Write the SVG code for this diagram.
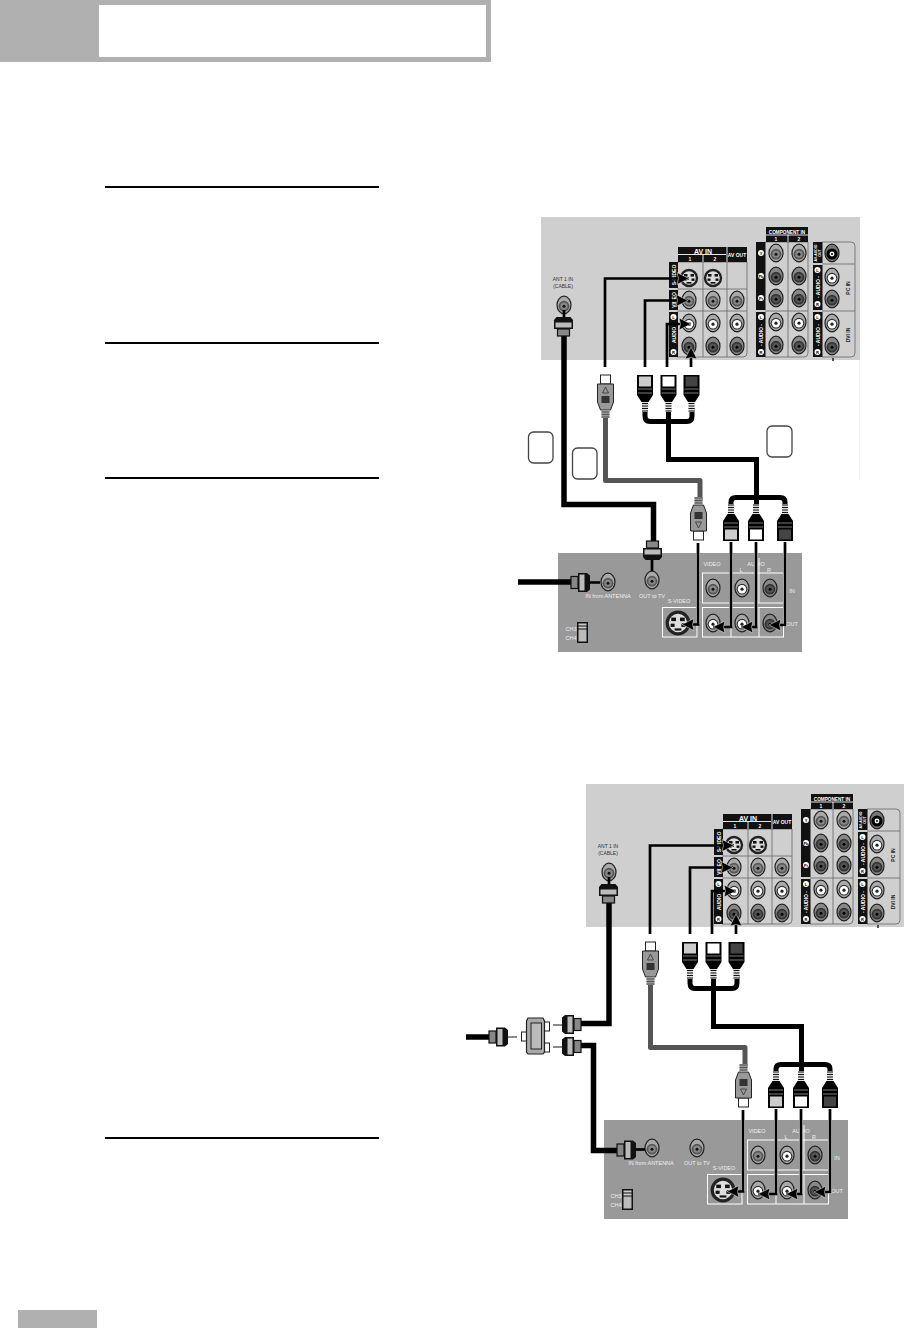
<svg xmlns="http://www.w3.org/2000/svg" width="908" height="1328" viewBox="0 0 908 1328">
<style>
text{font-family:"Liberation Sans",Arial,sans-serif}
.w{fill:#fff;font-weight:700;text-anchor:middle}
.c{fill:#000;font-weight:700;text-anchor:middle;font-size:4px}
.k{fill:#222;text-anchor:middle;font-weight:700}
.kn{fill:#333;text-anchor:middle;font-size:5px}
.lw{fill:#eee;text-anchor:middle;font-size:5.5px}
.wire{fill:none;stroke:#000;stroke-width:2.7}
.halo{fill:none;stroke:#fff;stroke-width:4;opacity:.75}
.ant{fill:none;stroke:#000;stroke-width:5.500;stroke-linejoin:miter}
.sv{fill:none;stroke:#555;stroke-width:5;stroke-linejoin:round}
.av{fill:none;stroke:#000;stroke-width:5}
.thin{fill:none;stroke:#666;stroke-width:1.5}
.sep{fill:none;stroke:#666;stroke-width:.8}
.box{fill:none;stroke:#fff;stroke-width:1}
.tag{fill:#fff;stroke:#444;stroke-width:1.3}
.rule{fill:none;stroke:#000;stroke-width:2}
.strip{fill:#111}
</style>
<defs>
<marker id="tip" markerUnits="userSpaceOnUse" markerWidth="15" markerHeight="13" refX="12" refY="6.5" orient="auto">
<path d="M0,.5 L12,6.500 L0,12.500 L1.500,6.500Z" fill="#000" stroke="#fff" stroke-width=".5"/>
</marker>
<g id="j-g"><ellipse rx="7" ry="8.8" fill="#aaa" stroke="#222" stroke-width="1.2"/><circle cy="1.2" r="5.4" fill="#555"/><circle cy="1.2" r="3.6" fill="#888"/><circle cy="1.2" r="1.5" fill="#111"/></g>
<g id="j-w"><ellipse rx="7" ry="8.8" fill="#aaa" stroke="#222" stroke-width="1.2"/><circle cy="1.2" r="5.4" fill="#333"/><circle cy="1.2" r="4.2" fill="#fff"/><circle cy="1.2" r="1.6" fill="#222"/></g>
<g id="j-d"><ellipse rx="7" ry="8.8" fill="#888" stroke="#222" stroke-width="1.2"/><circle cy="1.2" r="5.4" fill="#333"/><circle cy="1.2" r="3.6" fill="#555"/><circle cy="1.2" r="1.5" fill="#000"/></g>
<g id="j-b"><ellipse rx="7" ry="8.8" fill="#777" stroke="#222" stroke-width="1.2"/><circle cy="1" r="5.6" fill="#000"/><circle cy="1" r="2.4" fill="#fff"/><circle cy="1" r="1" fill="#000"/></g>
<g id="j-s"><circle r="8" fill="#ddd" stroke="#222" stroke-width="2.4"/><rect x="-5" y="-4" width="3.5" height="2.6" fill="#111"/><rect x="1.5" y="-4" width="3.5" height="2.6" fill="#111"/><rect x="-5.5" y=".5" width="3" height="2.4" fill="#111"/><rect x="2.5" y=".5" width="3" height="2.4" fill="#111"/><rect x="-2.5" y="4" width="5" height="1.6" fill="#111"/></g>
<g id="plug"><path d="M-8,0H8V20L3.5,27H-3.5L-8,20Z" fill="#000"/><rect x="-6" y="1.500" width="12" height="10" fill="currentColor"/><path d="M-7,14H7M-7,18H7" stroke="#999" stroke-width=".8"/><rect x="-3" y="27" width="6" height="10" fill="#ddd"/><path d="M-3,28.500H3M-3,31H3M-3,33.500H3M-3,36H3" stroke="#111" stroke-width="1"/></g>
<g id="splug"><rect x="-5" y="0" width="10" height="9" fill="#fff" stroke="#222" stroke-width="1"/><path d="M-8,9H8V27L5,35H-5L-8,27Z" fill="#999" stroke="#222" stroke-width="1"/><path d="M0,12L3,18H-3Z" fill="none" stroke="#333" stroke-width=".8"/><rect x="-4" y="21" width="8" height="7" fill="#333"/><rect x="-4" y="35" width="8" height="8" fill="#999"/><path d="M-4,37H4M-4,39.500H4M-4,42H4" stroke="#444" stroke-width=".8"/></g>
<g id="fcon"><path d="M-7,0H7L9.500,3V12H-9.500V3Z" fill="#111"/><rect x="-8" y="5.500" width="16" height="5" fill="#bbb"/><rect x="-6" y="12" width="12" height="7" fill="#888" stroke="#111" stroke-width="1.2"/></g>
<g id="tv-top">
<path class="sep" d="M677,262H747V353Q747,357 743,357H677M677,289H747M677,311H747M703,262V357M727,262V357"/>
<path class="sep" d="M765,242H808V353Q808,357 804,357H765M788,242V357M765,311H808"/>
<path class="sep" d="M822,242H851Q855,242 855,246V353Q855,357 851,357H822M822,264H855M822,311H855"/>
<path fill="#111" d="M678,247H747V262H678Z"/><path d="M678,254.500H726M703,254.500V262M727,247V262" stroke="#fff" stroke-width=".9" fill="none"/>
<path fill="#111" d="M766,227H808V242H766Z"/><path d="M766,235H808M788,235V242" stroke="#fff" stroke-width=".9" fill="none"/>
<rect class="strip" x="669" y="262" width="9" height="26"/><rect class="strip" x="669" y="290" width="9" height="20"/><rect class="strip" x="669" y="312" width="9" height="45"/>
<rect class="strip" x="756" y="242" width="9.500" height="68"/><rect class="strip" x="756" y="312" width="9.500" height="45"/>
<rect class="strip" x="813" y="242" width="9.500" height="21"/><rect class="strip" x="813" y="265" width="9.500" height="45"/><rect class="strip" x="813" y="312" width="9.500" height="45"/>
<g fill="#fff"><circle cx="673.500" cy="317" r="3"/><circle cx="673.500" cy="352" r="3"/><circle cx="761" cy="253" r="3"/><circle cx="761" cy="276" r="3"/><circle cx="761" cy="298" r="3"/><circle cx="761" cy="317" r="3"/><circle cx="761" cy="352" r="3"/><circle cx="817.500" cy="270" r="3"/><circle cx="817.500" cy="304" r="3"/><circle cx="817.500" cy="317" r="3"/><circle cx="817.500" cy="352" r="3"/></g>
<use href="#j-s" x="689" y="278"/><use href="#j-s" x="713" y="278"/>
<use href="#j-g" x="689" y="300"/><use href="#j-g" x="713" y="300"/><use href="#j-g" x="737" y="300"/>
<use href="#j-w" x="689" y="323"/><use href="#j-w" x="713" y="323"/><use href="#j-w" x="737" y="323"/>
<use href="#j-d" x="689" y="346"/><use href="#j-d" x="713" y="346"/><use href="#j-d" x="737" y="346"/>
<use href="#j-g" x="776" y="253"/><use href="#j-g" x="799" y="253"/><use href="#j-d" x="776" y="276"/><use href="#j-d" x="799" y="276"/><use href="#j-d" x="776" y="298"/><use href="#j-d" x="799" y="298"/>
<use href="#j-w" x="776" y="322"/><use href="#j-w" x="799" y="322"/><use href="#j-d" x="776" y="345"/><use href="#j-d" x="799" y="345"/>
<use href="#j-b" x="832" y="253"/><use href="#j-w" x="832" y="277"/><use href="#j-d" x="832" y="299"/><use href="#j-w" x="832" y="323"/><use href="#j-d" x="832" y="346"/>
<path d="M833,358V361" stroke="#222" stroke-width="1.5"/>
</g>
<g id="vcr">
<rect x="702.500" y="573" width="81" height="30" class="box"/><path class="box" d="M731,558V603M759,558V603M731,607V637M759,607V637"/>
<rect x="702.500" y="607.500" width="81" height="29.500" class="box"/><rect x="662.500" y="607.500" width="34.500" height="29.500" class="box"/>
<use href="#j-g" x="713" y="588"/><use href="#j-w" x="742" y="588"/><use href="#j-d" x="770" y="588"/>
<use href="#j-w" x="713" y="623"/><use href="#j-w" x="742" y="623"/><use href="#j-d" x="770" y="623"/>
<use href="#j-s" transform="translate(678,623) scale(1.35)"/>
<rect x="577" y="622" width="11" height="21" fill="#111"/><rect x="578.500" y="623.500" width="8" height="2" fill="#ccc"/><rect x="578.500" y="626.500" width="8" height="2" fill="#ccc"/><rect x="578.500" y="629.500" width="8" height="12" fill="#bbb"/>
</g>
</defs>

<g id="page-header"><rect x="0" y="0" width="491" height="62" fill="#b0b0b0"/><rect x="99" y="5" width="387" height="52" fill="#fff"/></g>
<rect id="page-footer" x="18" y="1310" width="79" height="18" fill="#b0b0b0"/>
<g id="rules"><path class="rule" d="M105,187H379M105,343H379M105,478H379M105,1138H379"/></g>

<!-- Upper diagram -->
<g id="tv-1">
<rect x="541" y="217" width="319" height="143" fill="#cfcfcf"/>
<use href="#tv-top"/>
<g id="tv-1-labels">
<text class="w" x="703" y="253.500" font-size="7">AV IN</text><text class="w" x="690" y="261" font-size="5">1</text><text class="w" x="715" y="261" font-size="5">2</text><text class="w" x="737" y="257" font-size="5">AV OUT</text>
<text class="w" x="787" y="233.500" font-size="4.700">COMPONENT IN</text><text class="w" x="776" y="241" font-size="5">1</text><text class="w" x="799" y="241" font-size="5">2</text>
<text class="w" font-size="5" transform="translate(675.500,275) rotate(-90)">S-VIDEO</text><text class="w" font-size="5" transform="translate(675.500,300) rotate(-90)">VIDEO</text><text class="w" font-size="5" transform="translate(675.500,335) rotate(-90)">AUDIO</text>
<text class="w" font-size="5" transform="translate(763,335) rotate(-90)">- AUDIO -</text><text class="w" font-size="5" transform="translate(819.500,287) rotate(-90)">- AUDIO -</text><text class="w" font-size="5" transform="translate(819.500,335) rotate(-90)">- AUDIO -</text>
<text class="w" font-size="3.500" transform="translate(817,253) rotate(-90)">AV-AUDIO</text><text class="w" font-size="3.500" transform="translate(821,253) rotate(-90)">OUT</text>
<text class="k" font-size="5" transform="translate(850,288) rotate(-90)">PC IN</text><text class="k" font-size="5" transform="translate(850,335) rotate(-90)">DVI IN</text>
<text class="kn" x="563" y="281">ANT 1 IN</text><text class="kn" x="563" y="288">(CABLE)</text>
<text class="c" x="673.500" y="318.500">L</text><text class="c" x="673.500" y="353.500">R</text><text class="c" x="761" y="254.500">Y</text><text class="c" x="761" y="277.500">Pb</text><text class="c" x="761" y="299.500">Pr</text><text class="c" x="761" y="318.500">L</text><text class="c" x="761" y="353.500">R</text><text class="c" x="817.500" y="271.500">L</text><text class="c" x="817.500" y="305.500">R</text><text class="c" x="817.500" y="318.500">L</text><text class="c" x="817.500" y="353.500">R</text>
</g>
<use href="#j-g" x="564" y="305"/>
<path class="wire" d="M564,310V318" stroke-width="2"/>
</g>
<path id="edge-1" d="M859.500,360V480" stroke="#eee" stroke-width="1"/>

<g id="vcr-1">
<rect x="558" y="553" width="244" height="99" fill="#999"/>
<use href="#vcr"/>
<use href="#j-g" x="608" y="582"/><use href="#j-g" x="652" y="580"/>
<g id="vcr-1-labels">
<text class="lw" x="712" y="566">VIDEO</text><text class="lw" x="756" y="566">AUDIO</text><text class="lw" x="741" y="572">L</text><text class="lw" x="769" y="572">R</text><text class="lw" x="792" y="593">IN</text><text class="lw" x="792" y="626">OUT</text><text class="lw" x="679" y="603">S-VIDEO</text>
<text class="lw" x="608" y="598" font-size="5">IN from ANTENNA</text><text class="lw" x="652" y="598" font-size="5">OUT to TV</text><text class="lw" x="571" y="631">CH3</text><text class="lw" x="571" y="640">CH4</text>
</g>
</g>

<g id="connectors-1">
<path class="ant" d="M564,330V504.500H653.500V545"/>
<path class="ant" d="M518,582H575"/>
<path class="wire" stroke-width="1.500" d="M590,582.500H600M652,560V571"/>
<path class="wire" d="M605,367V278.500H689" marker-end="url(#tip)"/>
<path class="wire" d="M645,367V300.500H688" marker-end="url(#tip)"/>
<path class="wire" d="M667,367V324H691" marker-end="url(#tip)"/>
<path class="wire" d="M691,367V347" marker-end="url(#tip)"/>
<path class="sv" d="M605.500,415V480.500H700V500"/>
<path class="av" d="M645,408V416Q645,421.500 650,421.500H687Q692,421.500 692,416V408"/>
<path class="av" d="M668.500,410V459.500H756.500V505"/>
<path class="av" d="M731,510V502Q731,497.500 736,497.500H780Q785,497.500 785,502V510"/>
<path class="halo" d="M698,553V624M731,553V626.500M756,553V626.500M785,553V626.500"/>
<path class="wire" d="M698,543V624.500H682" marker-end="url(#tip)"/>
<path class="wire" d="M731,542V627H713" marker-end="url(#tip)"/>
<path class="wire" d="M756,542V627H741" marker-end="url(#tip)"/>
<path class="wire" d="M785,542V625H769" marker-end="url(#tip)"/>
</g>

<g id="ant-con-1-a"><use href="#fcon" transform="translate(563.500,317)"/></g>
<g id="ant-con-1-b"><use href="#fcon" transform="translate(652.500,560) rotate(180)"/></g>
<g id="ant-con-1-c"><use href="#fcon" transform="translate(590,582.500) rotate(90)"/></g>
<g id="plugs-1-top" >
<use href="#splug" transform="translate(605.500,375)"/>
<use href="#plug" transform="translate(645,375)" color="#ccc"/><use href="#plug" transform="translate(668.500,375)" color="#fff"/><use href="#plug" transform="translate(691.500,375)" color="#444"/>
</g>
<g id="plugs-1-bottom">
<use href="#splug" transform="translate(698.500,540) scale(1,-1)"/>
<use href="#plug" transform="translate(731,541) scale(1,-1)" color="#ccc"/><use href="#plug" transform="translate(756,541) scale(1,-1)" color="#fff"/><use href="#plug" transform="translate(785,541) scale(1,-1)" color="#444"/>
</g>
<g id="tags-1"><rect class="tag" x="528.500" y="432" width="24.500" height="31" rx="5"/><rect class="tag" x="572.500" y="448" width="24.500" height="31" rx="5"/><rect class="tag" x="767" y="426" width="25" height="31" rx="5"/></g>

<!-- Lower diagram -->
<g id="tv-2" transform="translate(45,567)">
<rect x="541" y="217" width="318" height="143" fill="#cfcfcf"/>
<use href="#tv-top"/>
<g id="tv-2-labels">
<text class="w" x="703" y="253.500" font-size="7">AV IN</text><text class="w" x="690" y="261" font-size="5">1</text><text class="w" x="715" y="261" font-size="5">2</text><text class="w" x="737" y="257" font-size="5">AV OUT</text>
<text class="w" x="787" y="233.500" font-size="4.700">COMPONENT IN</text><text class="w" x="776" y="241" font-size="5">1</text><text class="w" x="799" y="241" font-size="5">2</text>
<text class="w" font-size="5" transform="translate(675.500,275) rotate(-90)">S-VIDEO</text><text class="w" font-size="5" transform="translate(675.500,300) rotate(-90)">VIDEO</text><text class="w" font-size="5" transform="translate(675.500,335) rotate(-90)">AUDIO</text>
<text class="w" font-size="5" transform="translate(763,335) rotate(-90)">- AUDIO -</text><text class="w" font-size="5" transform="translate(819.500,287) rotate(-90)">- AUDIO -</text><text class="w" font-size="5" transform="translate(819.500,335) rotate(-90)">- AUDIO -</text>
<text class="w" font-size="3.500" transform="translate(817,253) rotate(-90)">AV-AUDIO</text><text class="w" font-size="3.500" transform="translate(821,253) rotate(-90)">OUT</text>
<text class="k" font-size="5" transform="translate(850,288) rotate(-90)">PC IN</text><text class="k" font-size="5" transform="translate(850,335) rotate(-90)">DVI IN</text>
<text class="kn" x="563" y="281">ANT 1 IN</text><text class="kn" x="563" y="288">(CABLE)</text>
<text class="c" x="673.500" y="318.500">L</text><text class="c" x="673.500" y="353.500">R</text><text class="c" x="761" y="254.500">Y</text><text class="c" x="761" y="277.500">Pb</text><text class="c" x="761" y="299.500">Pr</text><text class="c" x="761" y="318.500">L</text><text class="c" x="761" y="353.500">R</text><text class="c" x="817.500" y="271.500">L</text><text class="c" x="817.500" y="305.500">R</text><text class="c" x="817.500" y="318.500">L</text><text class="c" x="817.500" y="353.500">R</text>
</g>
<use href="#j-g" x="564" y="305"/>
<path class="wire" d="M564,310V318" stroke-width="2"/>
</g>

<g id="vcr-2" transform="translate(45,567)">
<rect x="559" y="553" width="244" height="99" fill="#999"/>
<use href="#vcr"/>
<use href="#j-g" x="607" y="581"/><use href="#j-g" x="652" y="581"/>
<g id="vcr-2-labels">
<text class="lw" x="712" y="566">VIDEO</text><text class="lw" x="756" y="566">AUDIO</text><text class="lw" x="741" y="572">L</text><text class="lw" x="769" y="572">R</text><text class="lw" x="792" y="593">IN</text><text class="lw" x="792" y="626">OUT</text><text class="lw" x="679" y="603">S-VIDEO</text>
<text class="lw" x="606" y="598" font-size="5">IN from ANTENNA</text><text class="lw" x="652" y="598" font-size="5">OUT to TV</text><text class="lw" x="571" y="631">CH3</text><text class="lw" x="571" y="640">CH4</text>
</g>
</g>

<g id="connectors-2">
<path class="ant" d="M609,897V1023.500H578"/>
<path class="ant" d="M578,1045.500H593.500V1150.500H620"/>
<path class="ant" d="M466,1037H492"/>
<path class="thin" d="M508,1037H517M553,1025H562M553,1047H562"/>
<path class="wire" stroke-width="1.500" d="M636,1149.500H645"/>
<g transform="translate(45,567)">
<path class="wire" d="M605,367V278.500H689" marker-end="url(#tip)"/>
<path class="wire" d="M645,367V300.500H688" marker-end="url(#tip)"/>
<path class="wire" d="M667,367V324H691" marker-end="url(#tip)"/>
<path class="wire" d="M691,367V347" marker-end="url(#tip)"/>
<path class="sv" d="M605.500,415V480.500H700V500"/>
<path class="av" d="M645,408V416Q645,421.500 650,421.500H687Q692,421.500 692,416V408"/>
<path class="av" d="M668.500,410V459.500H756.500V505"/>
<path class="av" d="M731,510V502Q731,497.500 736,497.500H780Q785,497.500 785,502V510"/>
<path class="halo" d="M698,553V624M731,553V626.500M756,553V626.500M785,553V626.500"/>
<path class="wire" d="M698,543V624.500H682" marker-end="url(#tip)"/>
<path class="wire" d="M731,542V627H713" marker-end="url(#tip)"/>
<path class="wire" d="M756,542V627H741" marker-end="url(#tip)"/>
<path class="wire" d="M785,542V625H769" marker-end="url(#tip)"/>
</g>
</g>

<g id="ant-con-2-a"><use href="#fcon" transform="translate(608.500,884)"/></g>
<g id="ant-con-2-b"><use href="#fcon" transform="translate(636,1150) rotate(90)"/></g>
<g id="ant-con-2-c"><use href="#fcon" transform="translate(508,1037) rotate(90)"/></g>
<g id="ant-con-2-d"><use href="#fcon" transform="translate(562,1024.500) rotate(-90)"/></g>
<g id="ant-con-2-e"><use href="#fcon" transform="translate(562,1046.500) rotate(-90)"/></g>
<g id="splitter">
<rect x="544" y="1022" width="5.500" height="9" fill="#fff" stroke="#222"/><rect x="544" y="1043" width="5.500" height="9" fill="#fff" stroke="#222"/><rect x="521.500" y="1032" width="5" height="9" fill="#fff" stroke="#222"/>
<path d="M528,1018H543L544.500,1021V1052L543,1054H528L526.500,1052V1021Z" fill="#aaa" stroke="#222" stroke-width="1.200"/>
<rect x="531" y="1023" width="10.500" height="26" fill="#bbb" stroke="#222"/>
</g>
<g id="plugs-2-top" transform="translate(45,567)">
<use href="#splug" transform="translate(605.500,375)"/>
<use href="#plug" transform="translate(645,375)" color="#ccc"/><use href="#plug" transform="translate(668.500,375)" color="#fff"/><use href="#plug" transform="translate(691.500,375)" color="#444"/>
</g>
<g id="plugs-2-bottom" transform="translate(45,567)">
<use href="#splug" transform="translate(698.500,540) scale(1,-1)"/>
<use href="#plug" transform="translate(731,541) scale(1,-1)" color="#ccc"/><use href="#plug" transform="translate(756,541) scale(1,-1)" color="#fff"/><use href="#plug" transform="translate(785,541) scale(1,-1)" color="#444"/>
</g>
</svg>
